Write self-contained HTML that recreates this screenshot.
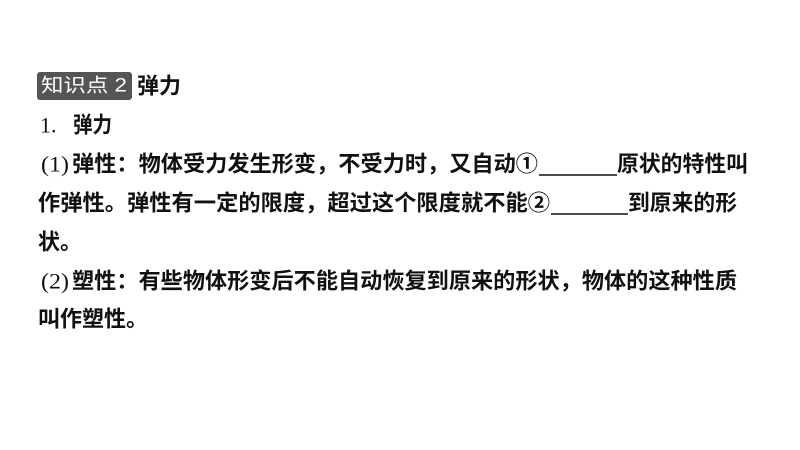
<!DOCTYPE html>
<html><head><meta charset="utf-8"><style>
html,body{margin:0;padding:0;background:#fff;}
svg{display:block;}
text{font-family:"Liberation Sans","Noto Sans CJK SC",sans-serif;fill:#111;dominant-baseline:central;}
.t{font-size:22px;font-weight:bold;}
</style></head><body>
<svg width="800" height="450" viewBox="0 0 800 450" xmlns="http://www.w3.org/2000/svg">
<rect x="37" y="72" width="95" height="28" rx="3" fill="#555"/>
<text x="41" y="86" font-size="19" style="fill:#fff" textLength="86" lengthAdjust="spacingAndGlyphs">知识点 2</text>
<text x="137" y="86" class="t" font-size="21" textLength="44" lengthAdjust="spacingAndGlyphs">弹力</text>

<text x="40" y="125" class="t" style="font-family:'Liberation Serif',serif;font-weight:normal">1.</text>
<text x="73" y="125" class="t" textLength="39" lengthAdjust="spacingAndGlyphs">弹力</text>

<text x="41" y="164" class="t" style="font-family:'Liberation Serif',serif;font-weight:normal" textLength="28" lengthAdjust="spacingAndGlyphs">(1)</text>
<text x="72" y="164" class="t" textLength="466" lengthAdjust="spacingAndGlyphs">弹性：物体受力发生形变，不受力时，又自动①</text>
<line x1="539" y1="175" x2="617" y2="175" stroke="#111" stroke-width="1.5"/>
<text x="617" y="164" class="t" textLength="131" lengthAdjust="spacingAndGlyphs">原状的特性叫</text>

<text x="38" y="203" class="t" textLength="512" lengthAdjust="spacingAndGlyphs">作弹性。弹性有一定的限度，超过这个限度就不能②</text>
<line x1="551" y1="214" x2="628" y2="214" stroke="#111" stroke-width="1.5"/>
<text x="628" y="203" class="t" textLength="109" lengthAdjust="spacingAndGlyphs">到原来的形</text>

<text x="38" y="242" class="t" textLength="44" lengthAdjust="spacingAndGlyphs">状。</text>

<text x="41" y="281" class="t" style="font-family:'Liberation Serif',serif;font-weight:normal" textLength="28" lengthAdjust="spacingAndGlyphs">(2)</text>
<text x="72" y="281" class="t" textLength="665" lengthAdjust="spacingAndGlyphs">塑性：有些物体形变后不能自动恢复到原来的形状，物体的这种性质</text>

<text x="38" y="319" class="t" textLength="110" lengthAdjust="spacingAndGlyphs">叫作塑性。</text>
</svg>
</body></html>
